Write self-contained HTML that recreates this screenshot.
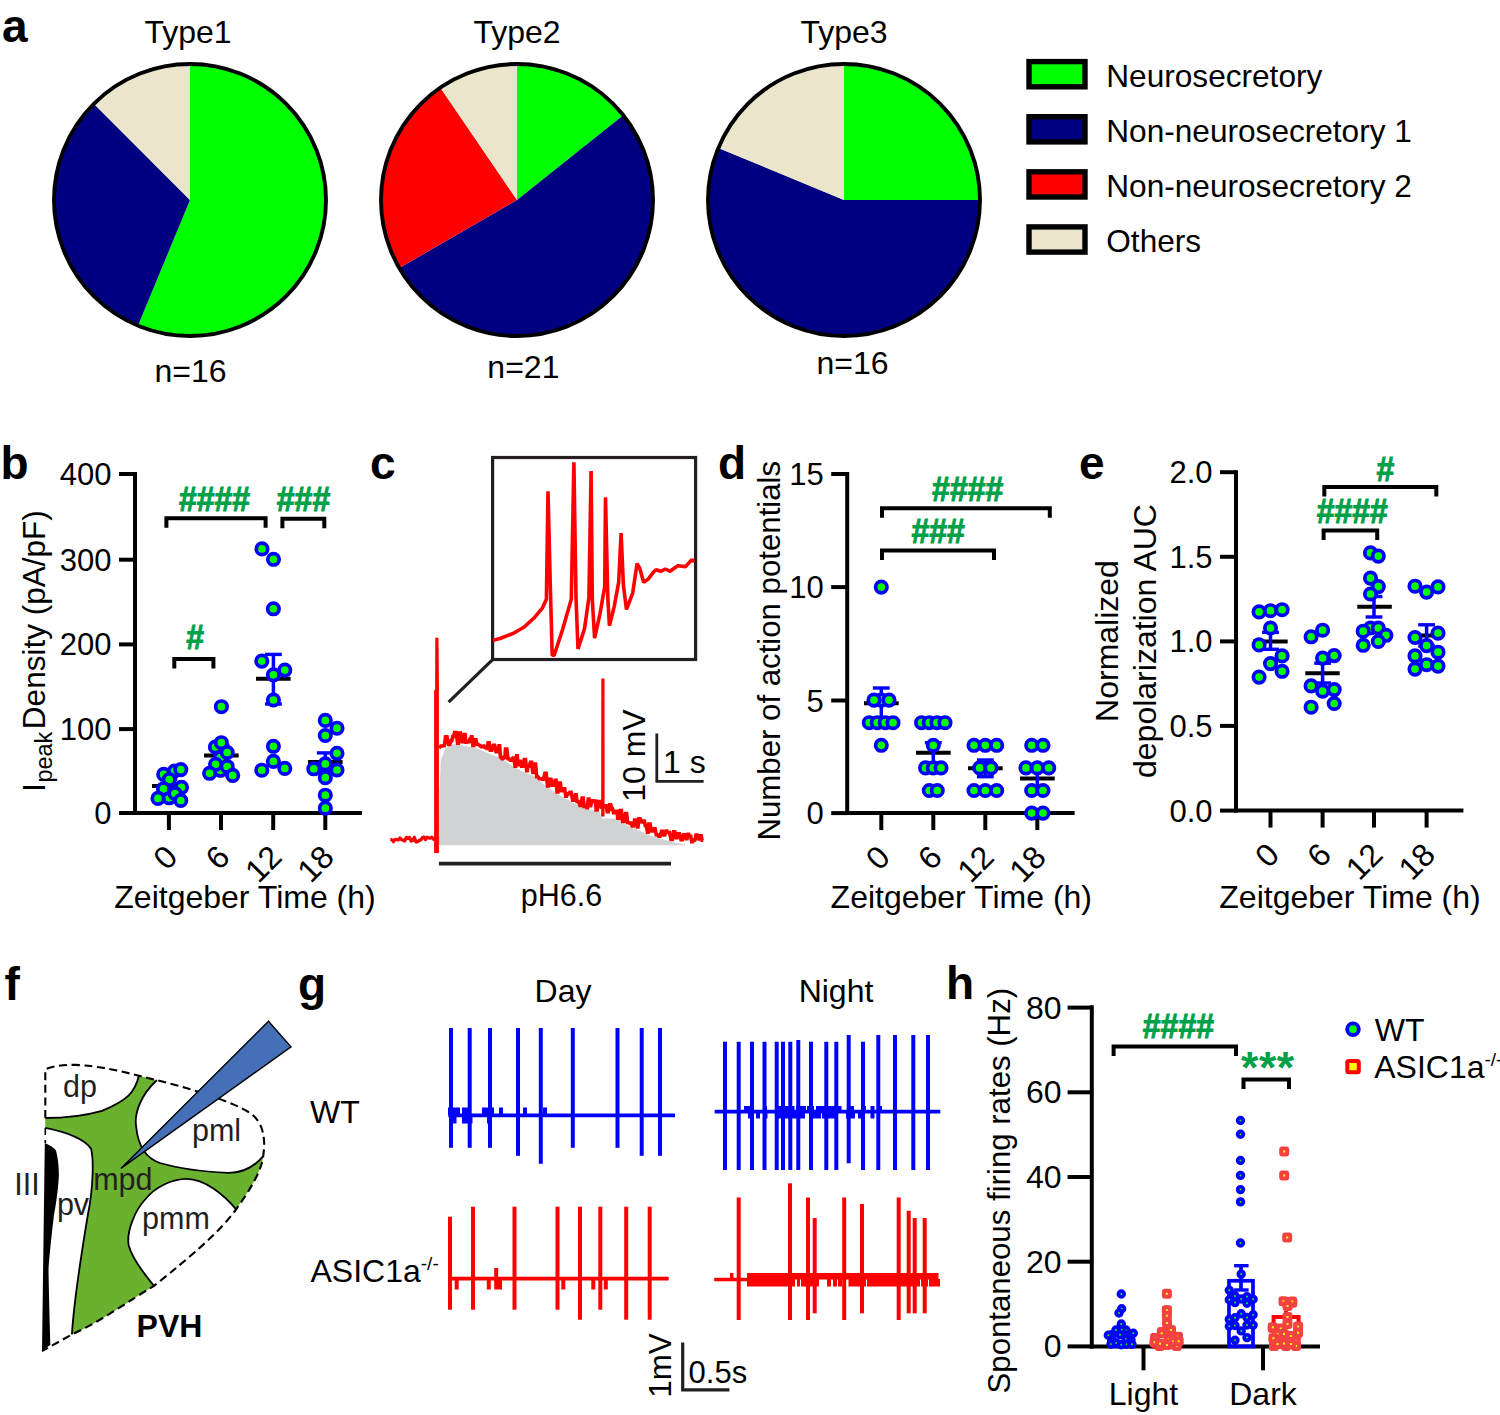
<!DOCTYPE html>
<html><head><meta charset="utf-8"><style>
html,body{margin:0;padding:0;background:#fff;width:1500px;height:1415px;overflow:hidden}
svg{display:block}
text{font-family:"Liberation Sans", sans-serif}
</style></head><body>
<svg width="1500" height="1415" viewBox="0 0 1500 1415">
<rect width="1500" height="1415" fill="#fff"/>
<text x="2.0" y="41.5" font-size="46" text-anchor="start" font-weight="bold" fill="#000" >a</text>
<path d="M190,200 L190.00,64.00 A136,136 0 1 1 137.96,325.65 Z" fill="#00ff00"/>
<path d="M190,200 L137.96,325.65 A136,136 0 0 1 93.83,103.83 Z" fill="#000080"/>
<path d="M190,200 L93.83,103.83 A136,136 0 0 1 190.00,64.00 Z" fill="#ebe5cb"/>
<circle cx="190" cy="200" r="136" fill="none" stroke="#000" stroke-width="3.9"/>
<text x="188.0" y="43.4" font-size="32" text-anchor="middle" font-weight="normal" fill="#000" >Type1</text>
<text x="190.6" y="382.0" font-size="32" text-anchor="middle" font-weight="normal" fill="#000" >n=16</text>
<path d="M517,200 L517.00,64.00 A136,136 0 0 1 623.33,115.21 Z" fill="#00ff00"/>
<path d="M517,200 L623.33,115.21 A136,136 0 1 1 399.22,268.00 Z" fill="#000080"/>
<path d="M517,200 L399.22,268.00 A136,136 0 0 1 440.39,87.63 Z" fill="#ff0000"/>
<path d="M517,200 L440.39,87.63 A136,136 0 0 1 517.00,64.00 Z" fill="#ebe5cb"/>
<circle cx="517" cy="200" r="136" fill="none" stroke="#000" stroke-width="3.9"/>
<text x="517.0" y="43.4" font-size="32" text-anchor="middle" font-weight="normal" fill="#000" >Type2</text>
<text x="523.4" y="377.8" font-size="32" text-anchor="middle" font-weight="normal" fill="#000" >n=21</text>
<path d="M844,200 L844.00,64.00 A136,136 0 0 1 980.00,200.00 Z" fill="#00ff00"/>
<path d="M844,200 L980.00,200.00 A136,136 0 1 1 718.35,147.96 Z" fill="#000080"/>
<path d="M844,200 L718.35,147.96 A136,136 0 0 1 844.00,64.00 Z" fill="#ebe5cb"/>
<circle cx="844" cy="200" r="136" fill="none" stroke="#000" stroke-width="3.9"/>
<text x="844.0" y="43.4" font-size="32" text-anchor="middle" font-weight="normal" fill="#000" >Type3</text>
<text x="852.6" y="374.0" font-size="32" text-anchor="middle" font-weight="normal" fill="#000" >n=16</text>
<rect x="1029" y="61.6" width="56" height="25.2" fill="#00ff00" stroke="#000" stroke-width="5.4"/>
<text x="1106.3" y="86.5" font-size="31.6" text-anchor="start" font-weight="normal" fill="#000" >Neurosecretory</text>
<rect x="1029" y="116.7" width="56" height="25.2" fill="#000080" stroke="#000" stroke-width="5.4"/>
<text x="1106.3" y="141.6" font-size="31.6" text-anchor="start" font-weight="normal" fill="#000" >Non-neurosecretory 1</text>
<rect x="1029" y="171.8" width="56" height="25.2" fill="#ff0000" stroke="#000" stroke-width="5.4"/>
<text x="1106.3" y="196.7" font-size="31.6" text-anchor="start" font-weight="normal" fill="#000" >Non-neurosecretory 2</text>
<rect x="1029" y="226.9" width="56" height="25.2" fill="#ebe5cb" stroke="#000" stroke-width="5.4"/>
<text x="1106.3" y="251.8" font-size="31.6" text-anchor="start" font-weight="normal" fill="#000" >Others</text>
<text x="0.5" y="479.0" font-size="46" text-anchor="start" font-weight="bold" fill="#000" >b</text>
<line x1="135.0" y1="472.0" x2="135.0" y2="815.0" stroke="#000" stroke-width="4" stroke-linecap="butt"/>
<line x1="133.0" y1="813.0" x2="362.0" y2="813.0" stroke="#000" stroke-width="4" stroke-linecap="butt"/>
<line x1="119.0" y1="474.0" x2="135.0" y2="474.0" stroke="#000" stroke-width="4" stroke-linecap="butt"/>
<text x="111.5" y="485.0" font-size="31" text-anchor="end" font-weight="normal" fill="#000" >400</text>
<line x1="119.0" y1="559.7" x2="135.0" y2="559.7" stroke="#000" stroke-width="4" stroke-linecap="butt"/>
<text x="111.5" y="570.7" font-size="31" text-anchor="end" font-weight="normal" fill="#000" >300</text>
<line x1="119.0" y1="644.4" x2="135.0" y2="644.4" stroke="#000" stroke-width="4" stroke-linecap="butt"/>
<text x="111.5" y="655.4" font-size="31" text-anchor="end" font-weight="normal" fill="#000" >200</text>
<line x1="119.0" y1="729.1" x2="135.0" y2="729.1" stroke="#000" stroke-width="4" stroke-linecap="butt"/>
<text x="111.5" y="740.1" font-size="31" text-anchor="end" font-weight="normal" fill="#000" >100</text>
<line x1="119.0" y1="813.0" x2="135.0" y2="813.0" stroke="#000" stroke-width="4" stroke-linecap="butt"/>
<text x="111.5" y="824.0" font-size="31" text-anchor="end" font-weight="normal" fill="#000" >0</text>
<line x1="168.9" y1="813.0" x2="168.9" y2="830.0" stroke="#000" stroke-width="4" stroke-linecap="butt"/>
<text transform="translate(179.4,859.0) rotate(-45)" font-size="32" text-anchor="end">0</text>
<line x1="221.0" y1="813.0" x2="221.0" y2="830.0" stroke="#000" stroke-width="4" stroke-linecap="butt"/>
<text transform="translate(231.5,859.0) rotate(-45)" font-size="32" text-anchor="end">6</text>
<line x1="273.2" y1="813.0" x2="273.2" y2="830.0" stroke="#000" stroke-width="4" stroke-linecap="butt"/>
<text transform="translate(283.7,859.0) rotate(-45)" font-size="32" text-anchor="end">12</text>
<line x1="325.3" y1="813.0" x2="325.3" y2="830.0" stroke="#000" stroke-width="4" stroke-linecap="butt"/>
<text transform="translate(335.8,859.0) rotate(-45)" font-size="32" text-anchor="end">18</text>
<text x="245.0" y="908.4" font-size="32" text-anchor="middle" font-weight="normal" fill="#000" >Zeitgeber Time (h)</text>
<text transform="translate(44.5,792) rotate(-90)" font-size="32">I<tspan font-size="23.5" dx="0.5" dy="7.1">peak</tspan><tspan dx="2.5" dy="-7.1" font-size="31.5">Density (pA/pF)</tspan></text>
<polyline points="166.4,527.8 166.4,518.3 265.6,518.3 265.6,527.8" fill="none" stroke="#000" stroke-width="4" stroke-linejoin="miter" stroke-linecap="butt"/>
<polyline points="282.4,528.2 282.4,518.7 324.3,518.7 324.3,528.2" fill="none" stroke="#000" stroke-width="4" stroke-linejoin="miter" stroke-linecap="butt"/>
<polyline points="174.3,668.5 174.3,659.0 213.4,659.0 213.4,668.5" fill="none" stroke="#000" stroke-width="4" stroke-linejoin="miter" stroke-linecap="butt"/>
<text transform="translate(214.5,510.7) scale(1,1.085)" x="0" y="0" font-size="32" text-anchor="middle" font-weight="bold" fill="#00a048" stroke="#00a048" stroke-width="0.9">####</text>
<text transform="translate(303.5,510.7) scale(1,1.085)" x="0" y="0" font-size="32" text-anchor="middle" font-weight="bold" fill="#00a048" stroke="#00a048" stroke-width="0.9">###</text>
<text transform="translate(195.1,648.7) scale(1,1.085)" x="0" y="0" font-size="32" text-anchor="middle" font-weight="bold" fill="#00a048" stroke="#00a048" stroke-width="0.9">#</text>
<line x1="152.0" y1="786.0" x2="186.0" y2="786.0" stroke="#000" stroke-width="4" stroke-linecap="butt"/>
<line x1="168.9" y1="779.0" x2="168.9" y2="786.0" stroke="#0000ff" stroke-width="3.5" stroke-linecap="butt"/>
<line x1="160.5" y1="779.0" x2="177.3" y2="779.0" stroke="#0000ff" stroke-width="3.4" stroke-linecap="butt"/>
<line x1="168.9" y1="786.0" x2="168.9" y2="793.0" stroke="#0000ff" stroke-width="3.5" stroke-linecap="butt"/>
<line x1="160.5" y1="793.0" x2="177.3" y2="793.0" stroke="#0000ff" stroke-width="3.4" stroke-linecap="butt"/>
<line x1="204.1" y1="755.4" x2="238.7" y2="755.4" stroke="#000" stroke-width="4" stroke-linecap="butt"/>
<line x1="221.0" y1="745.5" x2="221.0" y2="755.4" stroke="#0000ff" stroke-width="3.5" stroke-linecap="butt"/>
<line x1="212.6" y1="745.5" x2="229.4" y2="745.5" stroke="#0000ff" stroke-width="3.4" stroke-linecap="butt"/>
<line x1="221.0" y1="755.4" x2="221.0" y2="765.5" stroke="#0000ff" stroke-width="3.5" stroke-linecap="butt"/>
<line x1="212.6" y1="765.5" x2="229.4" y2="765.5" stroke="#0000ff" stroke-width="3.4" stroke-linecap="butt"/>
<line x1="256.0" y1="678.8" x2="290.6" y2="678.8" stroke="#000" stroke-width="4" stroke-linecap="butt"/>
<line x1="273.4" y1="654.4" x2="273.4" y2="678.8" stroke="#0000ff" stroke-width="3.5" stroke-linecap="butt"/>
<line x1="265.0" y1="654.4" x2="281.8" y2="654.4" stroke="#0000ff" stroke-width="3.4" stroke-linecap="butt"/>
<line x1="273.4" y1="678.8" x2="273.4" y2="704.0" stroke="#0000ff" stroke-width="3.5" stroke-linecap="butt"/>
<line x1="265.0" y1="704.0" x2="281.8" y2="704.0" stroke="#0000ff" stroke-width="3.4" stroke-linecap="butt"/>
<line x1="308.1" y1="761.9" x2="342.6" y2="761.9" stroke="#000" stroke-width="4" stroke-linecap="butt"/>
<line x1="325.3" y1="752.9" x2="325.3" y2="761.9" stroke="#0000ff" stroke-width="3.5" stroke-linecap="butt"/>
<line x1="316.9" y1="752.9" x2="333.7" y2="752.9" stroke="#0000ff" stroke-width="3.4" stroke-linecap="butt"/>
<line x1="325.3" y1="761.9" x2="325.3" y2="771.0" stroke="#0000ff" stroke-width="3.5" stroke-linecap="butt"/>
<line x1="316.9" y1="771.0" x2="333.7" y2="771.0" stroke="#0000ff" stroke-width="3.4" stroke-linecap="butt"/>
<circle cx="174.5" cy="771.0" r="5.7" fill="#00ff00" stroke="#0000ff" stroke-width="3.7"/>
<circle cx="163.7" cy="774.4" r="5.7" fill="#00ff00" stroke="#0000ff" stroke-width="3.7"/>
<circle cx="169.1" cy="797.8" r="5.7" fill="#00ff00" stroke="#0000ff" stroke-width="3.7"/>
<circle cx="181.5" cy="787.3" r="5.7" fill="#00ff00" stroke="#0000ff" stroke-width="3.7"/>
<circle cx="175.0" cy="793.5" r="5.7" fill="#00ff00" stroke="#0000ff" stroke-width="3.7"/>
<circle cx="180.8" cy="769.6" r="5.7" fill="#00ff00" stroke="#0000ff" stroke-width="3.7"/>
<circle cx="169.3" cy="779.5" r="5.7" fill="#00ff00" stroke="#0000ff" stroke-width="3.7"/>
<circle cx="163.5" cy="788.8" r="5.7" fill="#00ff00" stroke="#0000ff" stroke-width="3.7"/>
<circle cx="158.0" cy="798.4" r="5.7" fill="#00ff00" stroke="#0000ff" stroke-width="3.7"/>
<circle cx="180.8" cy="800.5" r="5.7" fill="#00ff00" stroke="#0000ff" stroke-width="3.7"/>
<circle cx="215.4" cy="747.0" r="5.7" fill="#00ff00" stroke="#0000ff" stroke-width="3.7"/>
<circle cx="220.4" cy="757.6" r="5.7" fill="#00ff00" stroke="#0000ff" stroke-width="3.7"/>
<circle cx="220.4" cy="770.3" r="5.7" fill="#00ff00" stroke="#0000ff" stroke-width="3.7"/>
<circle cx="221.3" cy="742.7" r="5.7" fill="#00ff00" stroke="#0000ff" stroke-width="3.7"/>
<circle cx="227.2" cy="752.5" r="5.7" fill="#00ff00" stroke="#0000ff" stroke-width="3.7"/>
<circle cx="215.6" cy="764.3" r="5.7" fill="#00ff00" stroke="#0000ff" stroke-width="3.7"/>
<circle cx="227.2" cy="766.5" r="5.7" fill="#00ff00" stroke="#0000ff" stroke-width="3.7"/>
<circle cx="209.6" cy="773.3" r="5.7" fill="#00ff00" stroke="#0000ff" stroke-width="3.7"/>
<circle cx="232.7" cy="775.4" r="5.7" fill="#00ff00" stroke="#0000ff" stroke-width="3.7"/>
<circle cx="221.4" cy="706.7" r="5.7" fill="#00ff00" stroke="#0000ff" stroke-width="3.7"/>
<circle cx="273.4" cy="608.8" r="5.7" fill="#00ff00" stroke="#0000ff" stroke-width="3.7"/>
<circle cx="262.0" cy="548.9" r="5.7" fill="#00ff00" stroke="#0000ff" stroke-width="3.7"/>
<circle cx="273.5" cy="559.3" r="5.7" fill="#00ff00" stroke="#0000ff" stroke-width="3.7"/>
<circle cx="261.8" cy="661.1" r="5.7" fill="#00ff00" stroke="#0000ff" stroke-width="3.7"/>
<circle cx="284.8" cy="670.1" r="5.7" fill="#00ff00" stroke="#0000ff" stroke-width="3.7"/>
<circle cx="273.4" cy="674.8" r="5.7" fill="#00ff00" stroke="#0000ff" stroke-width="3.7"/>
<circle cx="273.4" cy="700.0" r="5.7" fill="#00ff00" stroke="#0000ff" stroke-width="3.7"/>
<circle cx="273.4" cy="746.3" r="5.7" fill="#00ff00" stroke="#0000ff" stroke-width="3.7"/>
<circle cx="273.4" cy="761.4" r="5.7" fill="#00ff00" stroke="#0000ff" stroke-width="3.7"/>
<circle cx="261.8" cy="770.2" r="5.7" fill="#00ff00" stroke="#0000ff" stroke-width="3.7"/>
<circle cx="284.8" cy="768.4" r="5.7" fill="#00ff00" stroke="#0000ff" stroke-width="3.7"/>
<circle cx="325.3" cy="720.4" r="5.7" fill="#00ff00" stroke="#0000ff" stroke-width="3.7"/>
<circle cx="337.0" cy="728.2" r="5.7" fill="#00ff00" stroke="#0000ff" stroke-width="3.7"/>
<circle cx="325.3" cy="735.5" r="5.7" fill="#00ff00" stroke="#0000ff" stroke-width="3.7"/>
<circle cx="337.0" cy="753.3" r="5.7" fill="#00ff00" stroke="#0000ff" stroke-width="3.7"/>
<circle cx="325.3" cy="763.9" r="5.7" fill="#00ff00" stroke="#0000ff" stroke-width="3.7"/>
<circle cx="313.8" cy="768.8" r="5.7" fill="#00ff00" stroke="#0000ff" stroke-width="3.7"/>
<circle cx="337.0" cy="770.0" r="5.7" fill="#00ff00" stroke="#0000ff" stroke-width="3.7"/>
<circle cx="325.3" cy="777.7" r="5.7" fill="#00ff00" stroke="#0000ff" stroke-width="3.7"/>
<circle cx="325.3" cy="795.2" r="5.7" fill="#00ff00" stroke="#0000ff" stroke-width="3.7"/>
<circle cx="325.3" cy="808.2" r="5.7" fill="#00ff00" stroke="#0000ff" stroke-width="3.7"/>
<text x="718.0" y="479.0" font-size="46" text-anchor="start" font-weight="bold" fill="#000" >d</text>
<line x1="847.2" y1="472.0" x2="847.2" y2="815.1" stroke="#000" stroke-width="4" stroke-linecap="butt"/>
<line x1="845.2" y1="813.1" x2="1074.6" y2="813.1" stroke="#000" stroke-width="4" stroke-linecap="butt"/>
<line x1="831.2" y1="474.0" x2="847.2" y2="474.0" stroke="#000" stroke-width="4" stroke-linecap="butt"/>
<text x="823.7" y="485.0" font-size="31" text-anchor="end" font-weight="normal" fill="#000" >15</text>
<line x1="831.2" y1="587.1" x2="847.2" y2="587.1" stroke="#000" stroke-width="4" stroke-linecap="butt"/>
<text x="823.7" y="598.1" font-size="31" text-anchor="end" font-weight="normal" fill="#000" >10</text>
<line x1="831.2" y1="700.5" x2="847.2" y2="700.5" stroke="#000" stroke-width="4" stroke-linecap="butt"/>
<text x="823.7" y="711.5" font-size="31" text-anchor="end" font-weight="normal" fill="#000" >5</text>
<line x1="831.2" y1="813.1" x2="847.2" y2="813.1" stroke="#000" stroke-width="4" stroke-linecap="butt"/>
<text x="823.7" y="824.1" font-size="31" text-anchor="end" font-weight="normal" fill="#000" >0</text>
<line x1="881.3" y1="813.1" x2="881.3" y2="830.1" stroke="#000" stroke-width="4" stroke-linecap="butt"/>
<text transform="translate(891.8,859.1) rotate(-45)" font-size="32" text-anchor="end">0</text>
<line x1="933.3" y1="813.1" x2="933.3" y2="830.1" stroke="#000" stroke-width="4" stroke-linecap="butt"/>
<text transform="translate(943.8,859.1) rotate(-45)" font-size="32" text-anchor="end">6</text>
<line x1="985.3" y1="813.1" x2="985.3" y2="830.1" stroke="#000" stroke-width="4" stroke-linecap="butt"/>
<text transform="translate(995.8,859.1) rotate(-45)" font-size="32" text-anchor="end">12</text>
<line x1="1037.3" y1="813.1" x2="1037.3" y2="830.1" stroke="#000" stroke-width="4" stroke-linecap="butt"/>
<text transform="translate(1047.8,859.1) rotate(-45)" font-size="32" text-anchor="end">18</text>
<text x="961.3" y="908.4" font-size="32" text-anchor="middle" font-weight="normal" fill="#000" >Zeitgeber Time (h)</text>
<text transform="translate(780.2,650.7) rotate(-90)" font-size="31.2" text-anchor="middle" font-weight="normal" fill="#000">Number of action potentials</text>
<polyline points="882.0,517.7 882.0,508.2 1049.8,508.2 1049.8,517.7" fill="none" stroke="#000" stroke-width="4" stroke-linejoin="miter" stroke-linecap="butt"/>
<polyline points="882.0,559.9 882.0,550.4 994.0,550.4 994.0,559.9" fill="none" stroke="#000" stroke-width="4" stroke-linejoin="miter" stroke-linecap="butt"/>
<text transform="translate(967.7,501.0) scale(1,1.085)" x="0" y="0" font-size="32" text-anchor="middle" font-weight="bold" fill="#00a048" stroke="#00a048" stroke-width="0.9">####</text>
<text transform="translate(938.2,542.5) scale(1,1.085)" x="0" y="0" font-size="32" text-anchor="middle" font-weight="bold" fill="#00a048" stroke="#00a048" stroke-width="0.9">###</text>
<line x1="864.0" y1="703.3" x2="898.7" y2="703.3" stroke="#000" stroke-width="4" stroke-linecap="butt"/>
<line x1="881.3" y1="688.0" x2="881.3" y2="703.3" stroke="#0000ff" stroke-width="3.5" stroke-linecap="butt"/>
<line x1="872.9" y1="688.0" x2="889.7" y2="688.0" stroke="#0000ff" stroke-width="3.4" stroke-linecap="butt"/>
<line x1="881.3" y1="703.3" x2="881.3" y2="718.0" stroke="#0000ff" stroke-width="3.5" stroke-linecap="butt"/>
<line x1="872.9" y1="718.0" x2="889.7" y2="718.0" stroke="#0000ff" stroke-width="3.4" stroke-linecap="butt"/>
<line x1="916.0" y1="752.7" x2="950.7" y2="752.7" stroke="#000" stroke-width="4" stroke-linecap="butt"/>
<line x1="933.3" y1="742.7" x2="933.3" y2="752.7" stroke="#0000ff" stroke-width="3.5" stroke-linecap="butt"/>
<line x1="924.9" y1="742.7" x2="941.7" y2="742.7" stroke="#0000ff" stroke-width="3.4" stroke-linecap="butt"/>
<line x1="933.3" y1="752.7" x2="933.3" y2="763.0" stroke="#0000ff" stroke-width="3.5" stroke-linecap="butt"/>
<line x1="924.9" y1="763.0" x2="941.7" y2="763.0" stroke="#0000ff" stroke-width="3.4" stroke-linecap="butt"/>
<line x1="968.0" y1="768.3" x2="1002.7" y2="768.3" stroke="#000" stroke-width="4" stroke-linecap="butt"/>
<line x1="985.3" y1="760.0" x2="985.3" y2="768.3" stroke="#0000ff" stroke-width="3.5" stroke-linecap="butt"/>
<line x1="976.9" y1="760.0" x2="993.7" y2="760.0" stroke="#0000ff" stroke-width="3.4" stroke-linecap="butt"/>
<line x1="985.3" y1="768.3" x2="985.3" y2="776.7" stroke="#0000ff" stroke-width="3.5" stroke-linecap="butt"/>
<line x1="976.9" y1="776.7" x2="993.7" y2="776.7" stroke="#0000ff" stroke-width="3.4" stroke-linecap="butt"/>
<line x1="1020.0" y1="778.4" x2="1054.7" y2="778.4" stroke="#000" stroke-width="4" stroke-linecap="butt"/>
<line x1="1037.3" y1="770.0" x2="1037.3" y2="778.4" stroke="#0000ff" stroke-width="3.5" stroke-linecap="butt"/>
<line x1="1028.9" y1="770.0" x2="1045.7" y2="770.0" stroke="#0000ff" stroke-width="3.4" stroke-linecap="butt"/>
<line x1="1037.3" y1="778.4" x2="1037.3" y2="787.0" stroke="#0000ff" stroke-width="3.5" stroke-linecap="butt"/>
<line x1="1028.9" y1="787.0" x2="1045.7" y2="787.0" stroke="#0000ff" stroke-width="3.4" stroke-linecap="butt"/>
<circle cx="881.3" cy="587.1" r="5.7" fill="#00ff00" stroke="#0000ff" stroke-width="3.7"/>
<circle cx="869.3" cy="722.7" r="5.7" fill="#00ff00" stroke="#0000ff" stroke-width="3.7"/>
<circle cx="877.3" cy="722.7" r="5.7" fill="#00ff00" stroke="#0000ff" stroke-width="3.7"/>
<circle cx="885.3" cy="722.7" r="5.7" fill="#00ff00" stroke="#0000ff" stroke-width="3.7"/>
<circle cx="893.0" cy="722.7" r="5.7" fill="#00ff00" stroke="#0000ff" stroke-width="3.7"/>
<circle cx="881.3" cy="700.1" r="5.7" fill="#00ff00" stroke="#0000ff" stroke-width="3.7"/>
<circle cx="874.0" cy="700.1" r="5.7" fill="#00ff00" stroke="#0000ff" stroke-width="3.7"/>
<circle cx="889.0" cy="700.1" r="5.7" fill="#00ff00" stroke="#0000ff" stroke-width="3.7"/>
<circle cx="881.3" cy="745.3" r="5.7" fill="#00ff00" stroke="#0000ff" stroke-width="3.7"/>
<circle cx="921.6" cy="722.7" r="5.7" fill="#00ff00" stroke="#0000ff" stroke-width="3.7"/>
<circle cx="929.3" cy="722.7" r="5.7" fill="#00ff00" stroke="#0000ff" stroke-width="3.7"/>
<circle cx="937.0" cy="722.7" r="5.7" fill="#00ff00" stroke="#0000ff" stroke-width="3.7"/>
<circle cx="945.0" cy="722.7" r="5.7" fill="#00ff00" stroke="#0000ff" stroke-width="3.7"/>
<circle cx="933.3" cy="745.3" r="5.7" fill="#00ff00" stroke="#0000ff" stroke-width="3.7"/>
<circle cx="925.6" cy="767.9" r="5.7" fill="#00ff00" stroke="#0000ff" stroke-width="3.7"/>
<circle cx="933.3" cy="767.9" r="5.7" fill="#00ff00" stroke="#0000ff" stroke-width="3.7"/>
<circle cx="941.0" cy="767.9" r="5.7" fill="#00ff00" stroke="#0000ff" stroke-width="3.7"/>
<circle cx="929.3" cy="790.5" r="5.7" fill="#00ff00" stroke="#0000ff" stroke-width="3.7"/>
<circle cx="937.3" cy="790.5" r="5.7" fill="#00ff00" stroke="#0000ff" stroke-width="3.7"/>
<circle cx="974.0" cy="745.3" r="5.7" fill="#00ff00" stroke="#0000ff" stroke-width="3.7"/>
<circle cx="985.3" cy="745.3" r="5.7" fill="#00ff00" stroke="#0000ff" stroke-width="3.7"/>
<circle cx="996.7" cy="745.3" r="5.7" fill="#00ff00" stroke="#0000ff" stroke-width="3.7"/>
<circle cx="979.7" cy="767.9" r="5.7" fill="#00ff00" stroke="#0000ff" stroke-width="3.7"/>
<circle cx="991.0" cy="767.9" r="5.7" fill="#00ff00" stroke="#0000ff" stroke-width="3.7"/>
<circle cx="974.0" cy="790.5" r="5.7" fill="#00ff00" stroke="#0000ff" stroke-width="3.7"/>
<circle cx="985.3" cy="790.5" r="5.7" fill="#00ff00" stroke="#0000ff" stroke-width="3.7"/>
<circle cx="996.7" cy="790.5" r="5.7" fill="#00ff00" stroke="#0000ff" stroke-width="3.7"/>
<circle cx="1031.7" cy="745.3" r="5.7" fill="#00ff00" stroke="#0000ff" stroke-width="3.7"/>
<circle cx="1043.0" cy="745.3" r="5.7" fill="#00ff00" stroke="#0000ff" stroke-width="3.7"/>
<circle cx="1026.0" cy="767.9" r="5.7" fill="#00ff00" stroke="#0000ff" stroke-width="3.7"/>
<circle cx="1037.3" cy="767.9" r="5.7" fill="#00ff00" stroke="#0000ff" stroke-width="3.7"/>
<circle cx="1048.7" cy="767.9" r="5.7" fill="#00ff00" stroke="#0000ff" stroke-width="3.7"/>
<circle cx="1031.7" cy="790.5" r="5.7" fill="#00ff00" stroke="#0000ff" stroke-width="3.7"/>
<circle cx="1043.0" cy="790.5" r="5.7" fill="#00ff00" stroke="#0000ff" stroke-width="3.7"/>
<circle cx="1031.7" cy="813.1" r="5.7" fill="#00ff00" stroke="#0000ff" stroke-width="3.7"/>
<circle cx="1043.0" cy="813.1" r="5.7" fill="#00ff00" stroke="#0000ff" stroke-width="3.7"/>
<text x="1079.0" y="478.5" font-size="46" text-anchor="start" font-weight="bold" fill="#000" >e</text>
<line x1="1236.0" y1="470.2" x2="1236.0" y2="812.6" stroke="#000" stroke-width="4" stroke-linecap="butt"/>
<line x1="1234.0" y1="810.6" x2="1463.4" y2="810.6" stroke="#000" stroke-width="4" stroke-linecap="butt"/>
<line x1="1220.0" y1="472.2" x2="1236.0" y2="472.2" stroke="#000" stroke-width="4" stroke-linecap="butt"/>
<text x="1212.5" y="483.2" font-size="31" text-anchor="end" font-weight="normal" fill="#000" >2.0</text>
<line x1="1220.0" y1="556.8" x2="1236.0" y2="556.8" stroke="#000" stroke-width="4" stroke-linecap="butt"/>
<text x="1212.5" y="567.8" font-size="31" text-anchor="end" font-weight="normal" fill="#000" >1.5</text>
<line x1="1220.0" y1="641.4" x2="1236.0" y2="641.4" stroke="#000" stroke-width="4" stroke-linecap="butt"/>
<text x="1212.5" y="652.4" font-size="31" text-anchor="end" font-weight="normal" fill="#000" >1.0</text>
<line x1="1220.0" y1="725.9" x2="1236.0" y2="725.9" stroke="#000" stroke-width="4" stroke-linecap="butt"/>
<text x="1212.5" y="736.9" font-size="31" text-anchor="end" font-weight="normal" fill="#000" >0.5</text>
<line x1="1220.0" y1="810.6" x2="1236.0" y2="810.6" stroke="#000" stroke-width="4" stroke-linecap="butt"/>
<text x="1212.5" y="821.6" font-size="31" text-anchor="end" font-weight="normal" fill="#000" >0.0</text>
<line x1="1270.5" y1="810.6" x2="1270.5" y2="827.6" stroke="#000" stroke-width="4" stroke-linecap="butt"/>
<text transform="translate(1281.0,856.6) rotate(-45)" font-size="32" text-anchor="end">0</text>
<line x1="1322.6" y1="810.6" x2="1322.6" y2="827.6" stroke="#000" stroke-width="4" stroke-linecap="butt"/>
<text transform="translate(1333.1,856.6) rotate(-45)" font-size="32" text-anchor="end">6</text>
<line x1="1374.0" y1="810.6" x2="1374.0" y2="827.6" stroke="#000" stroke-width="4" stroke-linecap="butt"/>
<text transform="translate(1384.5,856.6) rotate(-45)" font-size="32" text-anchor="end">12</text>
<line x1="1426.6" y1="810.6" x2="1426.6" y2="827.6" stroke="#000" stroke-width="4" stroke-linecap="butt"/>
<text transform="translate(1437.1,856.6) rotate(-45)" font-size="32" text-anchor="end">18</text>
<text x="1350.0" y="908.4" font-size="32" text-anchor="middle" font-weight="normal" fill="#000" >Zeitgeber Time (h)</text>
<text transform="translate(1118.0,641.0) rotate(-90)" font-size="32" text-anchor="middle" font-weight="normal" fill="#000">Normalized</text>
<text transform="translate(1156.3,641.0) rotate(-90)" font-size="32" text-anchor="middle" font-weight="normal" fill="#000">depolarization AUC</text>
<polyline points="1324.3,496.5 1324.3,487.0 1436.3,487.0 1436.3,496.5" fill="none" stroke="#000" stroke-width="4" stroke-linejoin="miter" stroke-linecap="butt"/>
<polyline points="1323.6,540.0 1323.6,530.5 1377.2,530.5 1377.2,540.0" fill="none" stroke="#000" stroke-width="4" stroke-linejoin="miter" stroke-linecap="butt"/>
<text transform="translate(1385.5,480.7) scale(1,1.085)" x="0" y="0" font-size="32" text-anchor="middle" font-weight="bold" fill="#00a048" stroke="#00a048" stroke-width="0.9">#</text>
<text transform="translate(1352.3,523.0) scale(1,1.085)" x="0" y="0" font-size="32" text-anchor="middle" font-weight="bold" fill="#00a048" stroke="#00a048" stroke-width="0.9">####</text>
<line x1="1253.0" y1="641.6" x2="1287.7" y2="641.6" stroke="#000" stroke-width="4" stroke-linecap="butt"/>
<line x1="1270.5" y1="632.4" x2="1270.5" y2="641.6" stroke="#0000ff" stroke-width="3.5" stroke-linecap="butt"/>
<line x1="1262.1" y1="632.4" x2="1278.9" y2="632.4" stroke="#0000ff" stroke-width="3.4" stroke-linecap="butt"/>
<line x1="1270.5" y1="641.6" x2="1270.5" y2="649.3" stroke="#0000ff" stroke-width="3.5" stroke-linecap="butt"/>
<line x1="1262.1" y1="649.3" x2="1278.9" y2="649.3" stroke="#0000ff" stroke-width="3.4" stroke-linecap="butt"/>
<line x1="1305.3" y1="673.2" x2="1339.7" y2="673.2" stroke="#000" stroke-width="4" stroke-linecap="butt"/>
<line x1="1322.6" y1="663.2" x2="1322.6" y2="673.2" stroke="#0000ff" stroke-width="3.5" stroke-linecap="butt"/>
<line x1="1314.2" y1="663.2" x2="1331.0" y2="663.2" stroke="#0000ff" stroke-width="3.4" stroke-linecap="butt"/>
<line x1="1322.6" y1="673.2" x2="1322.6" y2="683.0" stroke="#0000ff" stroke-width="3.5" stroke-linecap="butt"/>
<line x1="1314.2" y1="683.0" x2="1331.0" y2="683.0" stroke="#0000ff" stroke-width="3.4" stroke-linecap="butt"/>
<line x1="1357.3" y1="606.7" x2="1391.8" y2="606.7" stroke="#000" stroke-width="4" stroke-linecap="butt"/>
<line x1="1374.0" y1="596.5" x2="1374.0" y2="606.7" stroke="#0000ff" stroke-width="3.5" stroke-linecap="butt"/>
<line x1="1365.6" y1="596.5" x2="1382.4" y2="596.5" stroke="#0000ff" stroke-width="3.4" stroke-linecap="butt"/>
<line x1="1374.0" y1="606.7" x2="1374.0" y2="617.0" stroke="#0000ff" stroke-width="3.5" stroke-linecap="butt"/>
<line x1="1365.6" y1="617.0" x2="1382.4" y2="617.0" stroke="#0000ff" stroke-width="3.4" stroke-linecap="butt"/>
<line x1="1409.5" y1="635.6" x2="1444.0" y2="635.6" stroke="#000" stroke-width="4" stroke-linecap="butt"/>
<line x1="1426.6" y1="624.8" x2="1426.6" y2="635.6" stroke="#0000ff" stroke-width="3.5" stroke-linecap="butt"/>
<line x1="1418.2" y1="624.8" x2="1435.0" y2="624.8" stroke="#0000ff" stroke-width="3.4" stroke-linecap="butt"/>
<line x1="1426.6" y1="635.6" x2="1426.6" y2="646.0" stroke="#0000ff" stroke-width="3.5" stroke-linecap="butt"/>
<line x1="1418.2" y1="646.0" x2="1435.0" y2="646.0" stroke="#0000ff" stroke-width="3.4" stroke-linecap="butt"/>
<circle cx="1259.1" cy="611.9" r="5.7" fill="#00ff00" stroke="#0000ff" stroke-width="3.7"/>
<circle cx="1270.5" cy="610.7" r="5.7" fill="#00ff00" stroke="#0000ff" stroke-width="3.7"/>
<circle cx="1282.1" cy="609.7" r="5.7" fill="#00ff00" stroke="#0000ff" stroke-width="3.7"/>
<circle cx="1270.5" cy="628.0" r="5.7" fill="#00ff00" stroke="#0000ff" stroke-width="3.7"/>
<circle cx="1259.1" cy="644.9" r="5.7" fill="#00ff00" stroke="#0000ff" stroke-width="3.7"/>
<circle cx="1282.1" cy="655.9" r="5.7" fill="#00ff00" stroke="#0000ff" stroke-width="3.7"/>
<circle cx="1270.5" cy="663.6" r="5.7" fill="#00ff00" stroke="#0000ff" stroke-width="3.7"/>
<circle cx="1282.1" cy="671.3" r="5.7" fill="#00ff00" stroke="#0000ff" stroke-width="3.7"/>
<circle cx="1259.1" cy="677.1" r="5.7" fill="#00ff00" stroke="#0000ff" stroke-width="3.7"/>
<circle cx="1311.1" cy="636.8" r="5.7" fill="#00ff00" stroke="#0000ff" stroke-width="3.7"/>
<circle cx="1322.6" cy="630.2" r="5.7" fill="#00ff00" stroke="#0000ff" stroke-width="3.7"/>
<circle cx="1322.6" cy="658.1" r="5.7" fill="#00ff00" stroke="#0000ff" stroke-width="3.7"/>
<circle cx="1334.2" cy="655.6" r="5.7" fill="#00ff00" stroke="#0000ff" stroke-width="3.7"/>
<circle cx="1311.1" cy="685.9" r="5.7" fill="#00ff00" stroke="#0000ff" stroke-width="3.7"/>
<circle cx="1322.6" cy="691.1" r="5.7" fill="#00ff00" stroke="#0000ff" stroke-width="3.7"/>
<circle cx="1334.2" cy="689.6" r="5.7" fill="#00ff00" stroke="#0000ff" stroke-width="3.7"/>
<circle cx="1311.1" cy="707.2" r="5.7" fill="#00ff00" stroke="#0000ff" stroke-width="3.7"/>
<circle cx="1334.2" cy="703.5" r="5.7" fill="#00ff00" stroke="#0000ff" stroke-width="3.7"/>
<circle cx="1370.5" cy="552.9" r="5.7" fill="#00ff00" stroke="#0000ff" stroke-width="3.7"/>
<circle cx="1378.3" cy="556.1" r="5.7" fill="#00ff00" stroke="#0000ff" stroke-width="3.7"/>
<circle cx="1370.5" cy="578.1" r="5.7" fill="#00ff00" stroke="#0000ff" stroke-width="3.7"/>
<circle cx="1378.3" cy="586.6" r="5.7" fill="#00ff00" stroke="#0000ff" stroke-width="3.7"/>
<circle cx="1370.5" cy="594.0" r="5.7" fill="#00ff00" stroke="#0000ff" stroke-width="3.7"/>
<circle cx="1370.5" cy="628.0" r="5.7" fill="#00ff00" stroke="#0000ff" stroke-width="3.7"/>
<circle cx="1378.3" cy="628.0" r="5.7" fill="#00ff00" stroke="#0000ff" stroke-width="3.7"/>
<circle cx="1363.2" cy="631.2" r="5.7" fill="#00ff00" stroke="#0000ff" stroke-width="3.7"/>
<circle cx="1385.9" cy="635.3" r="5.7" fill="#00ff00" stroke="#0000ff" stroke-width="3.7"/>
<circle cx="1363.2" cy="645.3" r="5.7" fill="#00ff00" stroke="#0000ff" stroke-width="3.7"/>
<circle cx="1378.3" cy="641.5" r="5.7" fill="#00ff00" stroke="#0000ff" stroke-width="3.7"/>
<circle cx="1415.0" cy="586.2" r="5.7" fill="#00ff00" stroke="#0000ff" stroke-width="3.7"/>
<circle cx="1426.6" cy="592.1" r="5.7" fill="#00ff00" stroke="#0000ff" stroke-width="3.7"/>
<circle cx="1438.0" cy="586.9" r="5.7" fill="#00ff00" stroke="#0000ff" stroke-width="3.7"/>
<circle cx="1438.0" cy="633.1" r="5.7" fill="#00ff00" stroke="#0000ff" stroke-width="3.7"/>
<circle cx="1415.0" cy="637.5" r="5.7" fill="#00ff00" stroke="#0000ff" stroke-width="3.7"/>
<circle cx="1426.6" cy="645.6" r="5.7" fill="#00ff00" stroke="#0000ff" stroke-width="3.7"/>
<circle cx="1438.0" cy="652.2" r="5.7" fill="#00ff00" stroke="#0000ff" stroke-width="3.7"/>
<circle cx="1415.0" cy="655.9" r="5.7" fill="#00ff00" stroke="#0000ff" stroke-width="3.7"/>
<circle cx="1426.6" cy="664.7" r="5.7" fill="#00ff00" stroke="#0000ff" stroke-width="3.7"/>
<circle cx="1438.0" cy="666.1" r="5.7" fill="#00ff00" stroke="#0000ff" stroke-width="3.7"/>
<circle cx="1415.0" cy="669.1" r="5.7" fill="#00ff00" stroke="#0000ff" stroke-width="3.7"/>
<text x="370.0" y="479.3" font-size="46" text-anchor="start" font-weight="bold" fill="#000" >c</text>
<path d="M438.9,845.3 L439.5,790.0 L441.0,760.0 L445.0,749.0 L450.0,744.9 L452.0,744.4 L454.0,744.0 L456.0,744.4 L458.0,744.7 L460.0,745.1 L462.0,745.4 L464.0,745.8 L466.0,746.2 L468.0,746.5 L470.0,746.9 L472.0,747.3 L474.0,747.6 L476.0,748.2 L478.0,749.0 L480.0,749.8 L482.0,750.6 L484.0,751.4 L486.0,752.2 L488.0,753.0 L490.0,753.9 L492.0,754.7 L494.0,755.5 L496.0,756.3 L498.0,757.1 L500.0,758.2 L502.0,759.4 L504.0,760.6 L506.0,761.8 L508.0,763.0 L510.0,764.2 L512.0,765.4 L514.0,766.6 L516.0,767.8 L518.0,769.0 L520.0,770.2 L522.0,771.3 L524.0,772.1 L526.0,772.9 L528.0,773.7 L530.0,774.5 L532.0,775.3 L534.0,776.4 L536.0,778.0 L538.0,779.6 L540.0,781.2 L542.0,782.8 L544.0,784.4 L546.0,785.9 L548.0,787.3 L550.0,788.7 L552.0,790.2 L554.0,791.6 L556.0,793.0 L558.0,794.2 L560.0,795.3 L562.0,796.5 L564.0,797.6 L566.0,798.7 L568.0,799.8 L570.0,800.9 L572.0,802.0 L574.0,803.2 L576.0,804.3 L578.0,805.4 L580.0,806.5 L582.0,807.1 L584.0,807.7 L586.0,808.2 L588.0,808.8 L590.0,809.4 L592.0,810.0 L594.0,810.5 L596.0,811.1 L598.0,811.7 L600.0,812.3 L602.0,818.5 L604.0,818.5 L606.0,818.5 L608.0,818.5 L610.0,818.5 L612.0,818.5 L614.0,818.5 L616.0,818.5 L618.0,818.5 L620.0,818.5 L622.0,822.5 L624.0,823.5 L626.0,824.5 L628.0,825.4 L630.0,826.3 L632.0,827.2 L634.0,828.2 L636.0,829.1 L638.0,830.0 L640.0,830.9 L642.0,831.8 L644.0,832.7 L646.0,833.7 L648.0,834.6 L650.0,835.5 L652.0,836.1 L654.0,836.7 L656.0,837.3 L658.0,837.9 L660.0,838.5 L662.0,839.1 L664.0,839.7 L666.0,840.3 L668.0,840.9 L670.0,841.5 L672.0,842.1 L674.0,842.6 L676.0,842.9 L678.0,843.2 L680.0,843.5 L682.0,843.8 L684.0,844.1 L686.0,845.3 L438.9,845.3 Z" fill="#d1d2d4"/>
<polyline points="390.3,839.3 391.9,839.8 393.5,841.7 395.1,839.3 396.7,839.5 398.3,840.0 399.9,837.9 401.5,839.6 403.1,840.2 404.7,841.0 406.3,837.4 407.9,838.5 409.5,837.4 411.1,841.1 412.7,840.5 414.3,837.1 415.9,842.0 417.5,841.9 419.1,840.3 420.7,840.1 422.3,837.7 423.9,837.0 425.5,839.6 427.1,837.2 428.7,837.9 430.3,838.2 431.9,837.1 433.5,839.3 435.5,838.0" fill="none" stroke="#ff0000" stroke-width="3.2" stroke-linejoin="round" stroke-linecap="butt"/>
<rect x="434.1" y="690" width="4.8" height="163" fill="#ff0000"/>
<path d="M435.1,690 L435.3,637.7 L438.5,637.7 L439,690 Z" fill="#ff0000"/>
<polyline points="439.0,748.0 441.0,746.0 442.1,746.0 443.1,745.8 444.3,745.8 445.5,736.9 447.0,736.9 448.5,744.5 449.8,744.5 451.0,740.6 451.9,740.6 452.7,736.5 453.7,736.5 454.6,732.5 456.1,732.5 457.6,743.3 458.4,743.3 459.1,733.0 460.6,733.0 462.1,741.8 463.3,741.8 464.4,734.6 465.1,734.6 465.8,742.2 467.1,742.2 468.4,741.6 469.0,741.6 469.7,739.2 470.5,739.2 471.3,736.9 472.0,736.9 472.8,745.5 474.0,745.5 475.2,739.9 476.0,739.9 476.7,744.3 478.1,744.3 479.4,745.5 480.2,745.5 481.0,746.6 482.1,746.6 483.3,746.1 484.1,746.1 484.9,747.5 485.8,747.5 486.7,748.4 487.4,748.4 488.1,742.7 489.2,742.7 490.3,750.3 491.8,750.3 493.3,745.3 494.7,745.3 496.0,751.6 497.5,751.6 498.9,745.9 499.6,745.9 500.4,756.7 501.2,756.7 502.0,758.7 503.1,758.7 504.2,757.4 504.9,757.4 505.5,749.1 506.8,749.1 508.0,758.8 509.1,758.8 510.3,760.3 511.5,760.3 512.8,758.1 513.9,758.1 515.0,766.1 515.8,766.1 516.7,755.9 517.3,755.9 517.9,764.8 518.6,764.8 519.2,761.4 520.3,761.4 521.4,766.2 522.8,766.2 524.2,759.6 525.5,759.6 526.7,770.7 527.3,770.7 527.9,766.2 529.2,766.2 530.4,762.2 531.6,762.2 532.8,772.5 533.6,772.5 534.5,764.1 535.6,764.1 536.7,776.8 538.0,776.8 539.2,778.7 540.7,778.7 542.1,779.1 543.5,779.1 544.9,773.2 546.2,773.2 547.5,785.9 548.7,785.9 549.9,779.2 551.0,779.2 552.2,785.1 553.6,785.1 555.1,780.4 556.1,780.4 557.0,791.9 558.0,791.9 559.0,783.0 560.3,783.0 561.6,790.8 562.6,790.8 563.6,788.8 564.7,788.8 565.7,796.1 566.6,796.1 567.4,793.9 568.6,793.9 569.8,792.4 571.2,792.4 572.7,800.2 574.1,800.2 575.5,794.9 576.2,794.9 577.0,801.5 578.4,801.5 579.9,805.4 581.0,805.4 582.1,798.1 583.2,798.1 584.2,806.4 585.4,806.4 586.7,807.7 587.4,807.7 588.2,799.1 589.0,799.1 589.8,805.8 590.8,805.8 591.9,800.9 593.3,800.9 594.8,801.1 595.5,801.1 596.1,810.0 597.3,810.0 598.6,801.5 599.9,801.5 601.2,807.1 602.2,807.1 603.2,805.7 604.0,805.7 604.8,805.9 606.0,805.9 607.2,811.7 608.4,811.7 609.5,804.9 610.8,804.9 612.0,809.1 612.7,809.1 613.5,812.7 614.7,812.7 616.0,811.3 616.9,811.3 617.8,818.1 619.0,818.1 620.1,810.5 621.4,810.5 622.7,821.5 624.2,821.5 625.6,813.5 626.6,813.5 627.6,822.5 628.6,822.5 629.5,823.1 630.8,823.1 632.1,826.0 633.3,826.0 634.5,820.1 635.9,820.1 637.2,826.9 638.0,826.9 638.8,818.9 640.3,818.9 641.7,822.0 642.6,822.0 643.5,821.1 644.4,821.1 645.3,825.7 646.4,825.7 647.5,832.1 648.2,832.1 648.8,824.1 650.1,824.1 651.4,831.0 652.7,831.0 654.0,828.8 655.1,828.8 656.2,834.7 657.4,834.7 658.6,836.3 660.1,836.3 661.5,831.4 662.6,831.4 663.7,835.0 664.8,835.0 666.0,831.0 667.1,831.0 668.2,832.5 669.6,832.5 670.9,839.5 672.3,839.5 673.7,831.7 674.8,831.7 675.9,837.8 677.0,837.8 678.0,833.8 679.5,833.8 681.0,839.7 682.3,839.7 683.6,834.9 684.8,834.9 686.0,838.8 687.0,838.8 688.0,834.3 688.8,834.3 689.7,836.2 690.7,836.2 691.7,841.7 692.7,841.7 693.7,840.0 694.9,840.0 696.0,835.1 697.3,835.1 698.6,838.9 699.4,838.9 700.2,835.9 701.2,835.9 702.1,840.3 703.3,840.3" fill="none" stroke="#ff0000" stroke-width="3.6" stroke-linejoin="miter" stroke-linecap="butt"/>
<path d="M601.2,816.5 L601.3,678.4 L604.5,678.4 L604.6,816.5 Z" fill="#ff0000"/>
<line x1="438.9" y1="863.6" x2="671.0" y2="863.6" stroke="#231f20" stroke-width="3.6" stroke-linecap="butt"/>
<text x="561.5" y="905.5" font-size="30.5" text-anchor="middle" font-weight="normal" fill="#000" >pH6.6</text>
<polyline points="656.8,733.5 656.8,781.3 703.6,781.3" fill="none" stroke="#231f20" stroke-width="2.8" stroke-linejoin="miter" stroke-linecap="butt"/>
<text transform="translate(645.2,755.6) rotate(-90)" font-size="32" text-anchor="middle" font-weight="normal" fill="#000">10 mV</text>
<text x="684.3" y="773.0" font-size="32" text-anchor="middle" font-weight="normal" fill="#000" >1 s</text>
<rect x="492.6" y="457.5" width="203" height="202" fill="#fff" stroke="#231f20" stroke-width="3.2"/>
<line x1="492.6" y1="659.7" x2="448.6" y2="702.1" stroke="#231f20" stroke-width="3.2" stroke-linecap="butt"/>
<polyline points="492.8,640.5 500.6,638.2 513.0,633.5 523.9,627.3 534.8,617.2 542.5,607.8 546.4,599.3 548.0,491.2 550.3,585.3 552.2,655.3 554.2,655.3 562.8,628.8 571.3,599.3 573.9,462.4 576.0,597.7 578.0,649.0 584.5,628.8 588.9,597.7 591.1,471.0 592.3,599.3 594.6,638.2 600.1,613.3 604.7,586.8 605.5,497.4 607.8,597.7 609.4,625.7 614.1,607.1 618.7,582.2 621.1,533.2 623.4,585.3 626.5,609.4 632.7,593.1 637.1,563.5 639.7,568.2 643.6,582.2 648.3,579.1 652.9,572.8 656.0,569.7 660.7,571.3 665.4,569.0 670.0,571.3 677.8,565.8 685.6,566.6 691.8,559.6 694.1,562.0" fill="none" stroke="#ff0000" stroke-width="3.6" stroke-linejoin="bevel" stroke-linecap="butt"/>
<text x="4.5" y="1000.0" font-size="46" text-anchor="start" font-weight="bold" fill="#000" >f</text>
<path d="M45.3,1118 L45.3,1127.9 C66,1132 84,1139 91,1148.6 C94,1160 93,1190 88,1214 C82,1250 74,1300 71.9,1334.4 C100,1322 130,1300 154,1285.9 C190,1257 220,1232 236.1,1209.3 C250,1190 262,1170 263.2,1156.1 C264,1150 264.5,1145 264,1141 C263.5,1129 259,1119 250,1113 C235,1103 200,1091 156.9,1080.2 L138.9,1075.7 C135,1092 128,1100 102,1110.8 C80,1117 60,1118 45.3,1118 Z" fill="#6ab130"/>
<path d="M156.9,1080.2 C140,1095 134,1115 136.2,1127 C138,1145 145,1158 160,1163 C180,1169 210,1172 228,1172.9 C245,1173 255,1166 263.2,1156.1 C264,1150 264.5,1145 264,1141 C263.5,1129 259,1119 250,1113 C235,1103 200,1091 156.9,1080.2 Z" fill="#fff"/>
<path d="M156.9,1080.2 C140,1095 134,1115 136.2,1127 C138,1145 145,1158 160,1163 C180,1169 210,1172 228,1172.9 C245,1173 255,1166 263.2,1156.1" fill="none" stroke="#000" stroke-width="1.8"/>
<path d="M154,1285.9 C145,1275 132,1258 128.8,1245.7 C126,1232 135,1210 145.6,1199 C155,1187 172,1179 186.7,1178.9 C205,1179 224,1195 236.1,1209.3 C220,1232 190,1257 154,1285.9 Z" fill="#fff"/>
<path d="M154,1285.9 C145,1275 132,1258 128.8,1245.7 C126,1232 135,1210 145.6,1199 C155,1187 172,1179 186.7,1178.9 C205,1179 224,1195 236.1,1209.3" fill="none" stroke="#000" stroke-width="1.8"/>
<path d="M45.3,1118 C60,1118 80,1117 102,1110.8 C128,1100 135,1092 138.9,1075.7" fill="none" stroke="#000" stroke-width="1.8"/>
<path d="M45.3,1127.9 C66,1132 84,1139 91,1148.6 C94,1160 93,1190 88,1214 C82,1250 74,1300 71.9,1334.4" fill="none" stroke="#000" stroke-width="1.8"/>
<path d="M45.3,1118 L45.3,1069.4 C50,1067 60,1064.5 75,1064.9 C100,1066 120,1071 138.9,1075.7 L156.9,1080.2 C200,1091 235,1103 250,1113 C259,1119 263.5,1129 264,1141 C264.5,1145 264,1150 263.2,1156.1 C262,1170 250,1190 236.1,1209.3 C220,1232 190,1257 154,1285.9 C130,1300 100,1322 71.9,1334.4 L42,1351.2" fill="none" stroke="#000" stroke-width="2.1" stroke-dasharray="8,4.6"/>
<line x1="45.3" y1="1128" x2="45.3" y2="1143" stroke="#000" stroke-width="1.6" stroke-dasharray="7,5"/>
<path d="M44.8,1143 C50,1145 54,1148 56,1150.5 C58.5,1160 59,1170 58.8,1176.7 C58,1190 56,1205 54.1,1214 C51,1240 49,1260 48.5,1270 C49,1300 50,1330 50.4,1344.7 L42,1351.2 Z" fill="#000"/>
<path d="M120.9,1168.4 L268.5,1021.2 L291,1046.9 Z" fill="#4570b7" stroke="#000" stroke-width="1.4" stroke-linejoin="miter"/>
<text x="80.0" y="1097.3" font-size="30.5" text-anchor="middle" font-weight="normal" fill="#231f20" >dp</text>
<text x="216.5" y="1141.4" font-size="30.5" text-anchor="middle" font-weight="normal" fill="#231f20" >pml</text>
<text x="122.8" y="1190.0" font-size="30.5" text-anchor="middle" font-weight="normal" fill="#231f20" >mpd</text>
<text x="73.0" y="1215.0" font-size="30.5" text-anchor="middle" font-weight="normal" fill="#231f20" >pv</text>
<text x="176.0" y="1229.0" font-size="30.5" text-anchor="middle" font-weight="normal" fill="#231f20" >pmm</text>
<text x="27.0" y="1195.3" font-size="30.5" text-anchor="middle" font-weight="normal" fill="#231f20" >III</text>
<text x="169.5" y="1337.2" font-size="32" text-anchor="middle" font-weight="bold" fill="#000" >PVH</text>
<text x="298.0" y="1000.0" font-size="46" text-anchor="start" font-weight="bold" fill="#000" >g</text>
<text x="563.0" y="1002.4" font-size="32" text-anchor="middle" font-weight="normal" fill="#000" >Day</text>
<text x="836.0" y="1002.2" font-size="32" text-anchor="middle" font-weight="normal" fill="#000" >Night</text>
<text x="310.0" y="1123.0" font-size="32" text-anchor="start" font-weight="normal" fill="#000" >WT</text>
<text x="310.5" y="1281.6" font-size="32">ASIC1a<tspan font-size="19" dy="-12">-/-</tspan></text>
<line x1="448.3" y1="1115.3" x2="675.0" y2="1115.3" stroke="#0000ff" stroke-width="3.7" stroke-linecap="butt"/>
<line x1="451.0" y1="1028.0" x2="451.0" y2="1147.8" stroke="#0000ff" stroke-width="4" stroke-linecap="butt"/>
<line x1="469.7" y1="1028.0" x2="469.7" y2="1147.8" stroke="#0000ff" stroke-width="4" stroke-linecap="butt"/>
<line x1="490.0" y1="1028.0" x2="490.0" y2="1147.8" stroke="#0000ff" stroke-width="4" stroke-linecap="butt"/>
<line x1="518.0" y1="1028.0" x2="518.0" y2="1155.8" stroke="#0000ff" stroke-width="4" stroke-linecap="butt"/>
<line x1="540.8" y1="1028.0" x2="540.8" y2="1163.7" stroke="#0000ff" stroke-width="4" stroke-linecap="butt"/>
<line x1="572.8" y1="1028.0" x2="572.8" y2="1147.8" stroke="#0000ff" stroke-width="4" stroke-linecap="butt"/>
<line x1="617.5" y1="1028.0" x2="617.5" y2="1147.8" stroke="#0000ff" stroke-width="4" stroke-linecap="butt"/>
<line x1="641.7" y1="1028.0" x2="641.7" y2="1155.8" stroke="#0000ff" stroke-width="4" stroke-linecap="butt"/>
<line x1="660.0" y1="1028.0" x2="660.0" y2="1155.8" stroke="#0000ff" stroke-width="4" stroke-linecap="butt"/>
<rect x="448.0" y="1107.5" width="12.0" height="7.5" fill="#0000ff"/>
<rect x="462.0" y="1107.5" width="6.0" height="7.5" fill="#0000ff"/>
<rect x="482.0" y="1107.5" width="12.0" height="7.5" fill="#0000ff"/>
<rect x="499.0" y="1107.5" width="4.0" height="7.5" fill="#0000ff"/>
<rect x="523.0" y="1107.5" width="4.0" height="7.5" fill="#0000ff"/>
<rect x="543.0" y="1107.5" width="4.0" height="7.5" fill="#0000ff"/>
<rect x="449.0" y="1115.0" width="7.5" height="8.5" fill="#0000ff"/>
<rect x="462.0" y="1115.0" width="10.5" height="8.5" fill="#0000ff"/>
<rect x="487.0" y="1115.0" width="4.5" height="8.5" fill="#0000ff"/>
<line x1="714.7" y1="1111.7" x2="940.3" y2="1111.7" stroke="#0000ff" stroke-width="3.7" stroke-linecap="butt"/>
<rect x="744.0" y="1106.0" width="10.0" height="6.0" fill="#0000ff"/>
<rect x="763.0" y="1106.0" width="4.0" height="6.0" fill="#0000ff"/>
<rect x="775.0" y="1106.0" width="19.5" height="6.0" fill="#0000ff"/>
<rect x="796.0" y="1106.0" width="10.0" height="6.0" fill="#0000ff"/>
<rect x="807.0" y="1106.0" width="7.0" height="6.0" fill="#0000ff"/>
<rect x="816.0" y="1106.0" width="25.5" height="6.0" fill="#0000ff"/>
<rect x="847.0" y="1106.0" width="7.0" height="6.0" fill="#0000ff"/>
<rect x="861.5" y="1106.0" width="4.5" height="6.0" fill="#0000ff"/>
<rect x="870.5" y="1106.0" width="4.0" height="6.0" fill="#0000ff"/>
<rect x="878.0" y="1106.0" width="4.0" height="6.0" fill="#0000ff"/>
<rect x="748.0" y="1112.0" width="6.0" height="6.5" fill="#0000ff"/>
<rect x="756.0" y="1112.0" width="4.0" height="6.5" fill="#0000ff"/>
<rect x="763.0" y="1112.0" width="4.5" height="6.5" fill="#0000ff"/>
<rect x="775.0" y="1112.0" width="30.0" height="6.5" fill="#0000ff"/>
<rect x="809.0" y="1112.0" width="12.0" height="6.5" fill="#0000ff"/>
<rect x="822.0" y="1112.0" width="16.0" height="6.5" fill="#0000ff"/>
<rect x="846.0" y="1112.0" width="9.0" height="6.5" fill="#0000ff"/>
<rect x="858.0" y="1112.0" width="7.0" height="6.5" fill="#0000ff"/>
<rect x="870.5" y="1112.0" width="4.0" height="6.5" fill="#0000ff"/>
<line x1="725.0" y1="1041.7" x2="725.0" y2="1170.0" stroke="#0000ff" stroke-width="4" stroke-linecap="butt"/>
<line x1="738.7" y1="1041.7" x2="738.7" y2="1170.0" stroke="#0000ff" stroke-width="4" stroke-linecap="butt"/>
<line x1="752.0" y1="1041.7" x2="752.0" y2="1170.0" stroke="#0000ff" stroke-width="4" stroke-linecap="butt"/>
<line x1="764.5" y1="1041.7" x2="764.5" y2="1170.0" stroke="#0000ff" stroke-width="4" stroke-linecap="butt"/>
<line x1="776.7" y1="1041.7" x2="776.7" y2="1170.0" stroke="#0000ff" stroke-width="4" stroke-linecap="butt"/>
<line x1="783.0" y1="1041.7" x2="783.0" y2="1170.0" stroke="#0000ff" stroke-width="4" stroke-linecap="butt"/>
<line x1="790.3" y1="1041.7" x2="790.3" y2="1170.0" stroke="#0000ff" stroke-width="4" stroke-linecap="butt"/>
<line x1="798.3" y1="1040.0" x2="798.3" y2="1170.0" stroke="#0000ff" stroke-width="4" stroke-linecap="butt"/>
<line x1="811.0" y1="1041.7" x2="811.0" y2="1170.0" stroke="#0000ff" stroke-width="4" stroke-linecap="butt"/>
<line x1="826.3" y1="1041.7" x2="826.3" y2="1170.0" stroke="#0000ff" stroke-width="4" stroke-linecap="butt"/>
<line x1="836.3" y1="1041.7" x2="836.3" y2="1170.0" stroke="#0000ff" stroke-width="4" stroke-linecap="butt"/>
<line x1="848.7" y1="1035.0" x2="848.7" y2="1163.3" stroke="#0000ff" stroke-width="4" stroke-linecap="butt"/>
<line x1="863.0" y1="1041.7" x2="863.0" y2="1170.0" stroke="#0000ff" stroke-width="4" stroke-linecap="butt"/>
<line x1="878.3" y1="1035.0" x2="878.3" y2="1170.0" stroke="#0000ff" stroke-width="4" stroke-linecap="butt"/>
<line x1="895.0" y1="1035.0" x2="895.0" y2="1170.0" stroke="#0000ff" stroke-width="4" stroke-linecap="butt"/>
<line x1="913.3" y1="1035.0" x2="913.3" y2="1170.0" stroke="#0000ff" stroke-width="4" stroke-linecap="butt"/>
<line x1="928.0" y1="1035.0" x2="928.0" y2="1170.0" stroke="#0000ff" stroke-width="4" stroke-linecap="butt"/>
<line x1="448.3" y1="1278.7" x2="668.7" y2="1278.7" stroke="#ff0000" stroke-width="3.7" stroke-linecap="butt"/>
<line x1="450.0" y1="1216.7" x2="450.0" y2="1309.7" stroke="#ff0000" stroke-width="4" stroke-linecap="butt"/>
<line x1="473.0" y1="1206.7" x2="473.0" y2="1309.7" stroke="#ff0000" stroke-width="4" stroke-linecap="butt"/>
<line x1="514.5" y1="1206.7" x2="514.5" y2="1309.7" stroke="#ff0000" stroke-width="4" stroke-linecap="butt"/>
<line x1="557.5" y1="1206.7" x2="557.5" y2="1309.7" stroke="#ff0000" stroke-width="4" stroke-linecap="butt"/>
<line x1="580.0" y1="1206.7" x2="580.0" y2="1319.7" stroke="#ff0000" stroke-width="4" stroke-linecap="butt"/>
<line x1="600.3" y1="1206.7" x2="600.3" y2="1309.7" stroke="#ff0000" stroke-width="4" stroke-linecap="butt"/>
<line x1="626.2" y1="1206.7" x2="626.2" y2="1319.7" stroke="#ff0000" stroke-width="4" stroke-linecap="butt"/>
<line x1="649.7" y1="1206.7" x2="649.7" y2="1319.7" stroke="#ff0000" stroke-width="4" stroke-linecap="butt"/>
<rect x="454.7" y="1279.0" width="4.0" height="10.5" fill="#ff0000"/>
<rect x="486.8" y="1279.0" width="4.0" height="10.5" fill="#ff0000"/>
<rect x="494.2" y="1279.0" width="4.0" height="10.5" fill="#ff0000"/>
<rect x="498.0" y="1279.0" width="4.0" height="10.5" fill="#ff0000"/>
<rect x="561.3" y="1279.0" width="4.0" height="10.5" fill="#ff0000"/>
<rect x="591.3" y="1279.0" width="4.0" height="10.5" fill="#ff0000"/>
<rect x="603.8" y="1279.0" width="4.0" height="10.5" fill="#ff0000"/>
<rect x="494.2" y="1268.0" width="4.0" height="12.0" fill="#ff0000"/>
<line x1="714.2" y1="1279.5" x2="747.0" y2="1279.5" stroke="#ff0000" stroke-width="3.7" stroke-linecap="butt"/>
<rect x="730.0" y="1273.0" width="3.5" height="6.0" fill="#ff0000"/>
<rect x="747.0" y="1273.0" width="191.5" height="6.5" fill="#ff0000"/>
<rect x="747.0" y="1279.0" width="48.0" height="7.5" fill="#ff0000"/>
<rect x="797.0" y="1279.0" width="3.0" height="7.5" fill="#ff0000"/>
<rect x="801.0" y="1279.0" width="18.0" height="7.5" fill="#ff0000"/>
<rect x="827.0" y="1279.0" width="4.0" height="7.5" fill="#ff0000"/>
<rect x="833.0" y="1279.0" width="4.0" height="7.5" fill="#ff0000"/>
<rect x="838.0" y="1279.0" width="4.0" height="7.5" fill="#ff0000"/>
<rect x="848.5" y="1279.0" width="17.5" height="7.5" fill="#ff0000"/>
<rect x="867.0" y="1279.0" width="53.0" height="7.5" fill="#ff0000"/>
<rect x="921.0" y="1279.0" width="7.0" height="7.5" fill="#ff0000"/>
<rect x="929.0" y="1279.0" width="11.0" height="7.5" fill="#ff0000"/>
<line x1="738.7" y1="1197.5" x2="738.7" y2="1320.0" stroke="#ff0000" stroke-width="4" stroke-linecap="butt"/>
<line x1="790.0" y1="1183.3" x2="790.0" y2="1320.0" stroke="#ff0000" stroke-width="4" stroke-linecap="butt"/>
<line x1="808.0" y1="1197.5" x2="808.0" y2="1320.0" stroke="#ff0000" stroke-width="4" stroke-linecap="butt"/>
<line x1="814.7" y1="1218.0" x2="814.7" y2="1313.3" stroke="#ff0000" stroke-width="4" stroke-linecap="butt"/>
<line x1="844.2" y1="1197.5" x2="844.2" y2="1320.0" stroke="#ff0000" stroke-width="4" stroke-linecap="butt"/>
<line x1="862.0" y1="1204.0" x2="862.0" y2="1313.3" stroke="#ff0000" stroke-width="4" stroke-linecap="butt"/>
<line x1="898.7" y1="1197.5" x2="898.7" y2="1320.0" stroke="#ff0000" stroke-width="4" stroke-linecap="butt"/>
<line x1="908.7" y1="1210.8" x2="908.7" y2="1313.3" stroke="#ff0000" stroke-width="4" stroke-linecap="butt"/>
<line x1="914.7" y1="1218.0" x2="914.7" y2="1313.3" stroke="#ff0000" stroke-width="4" stroke-linecap="butt"/>
<line x1="924.7" y1="1218.0" x2="924.7" y2="1313.3" stroke="#ff0000" stroke-width="4" stroke-linecap="butt"/>
<polyline points="682.7,1342.4 682.7,1389.8 729.4,1389.8" fill="none" stroke="#231f20" stroke-width="3.2" stroke-linejoin="miter" stroke-linecap="butt"/>
<text transform="translate(671.3,1365.5) rotate(-90)" font-size="31.4" text-anchor="middle" font-weight="normal" fill="#000">1mV</text>
<text x="688.6" y="1383.0" font-size="31" text-anchor="start" font-weight="normal" fill="#000" >0.5s</text>
<text x="946.0" y="999.2" font-size="46" text-anchor="start" font-weight="bold" fill="#000" >h</text>
<line x1="1091.8" y1="1005.2" x2="1091.8" y2="1348.4" stroke="#000" stroke-width="4" stroke-linecap="butt"/>
<line x1="1089.8" y1="1346.4" x2="1320.0" y2="1346.4" stroke="#000" stroke-width="4" stroke-linecap="butt"/>
<line x1="1067.6" y1="1007.6" x2="1091.8" y2="1007.6" stroke="#000" stroke-width="4" stroke-linecap="butt"/>
<text x="1061.5" y="1018.6" font-size="32" text-anchor="end" font-weight="normal" fill="#000" >80</text>
<line x1="1067.6" y1="1092.3" x2="1091.8" y2="1092.3" stroke="#000" stroke-width="4" stroke-linecap="butt"/>
<text x="1061.5" y="1103.3" font-size="32" text-anchor="end" font-weight="normal" fill="#000" >60</text>
<line x1="1067.6" y1="1177.0" x2="1091.8" y2="1177.0" stroke="#000" stroke-width="4" stroke-linecap="butt"/>
<text x="1061.5" y="1188.0" font-size="32" text-anchor="end" font-weight="normal" fill="#000" >40</text>
<line x1="1067.6" y1="1261.7" x2="1091.8" y2="1261.7" stroke="#000" stroke-width="4" stroke-linecap="butt"/>
<text x="1061.5" y="1272.7" font-size="32" text-anchor="end" font-weight="normal" fill="#000" >20</text>
<line x1="1067.6" y1="1346.4" x2="1091.8" y2="1346.4" stroke="#000" stroke-width="4" stroke-linecap="butt"/>
<text x="1061.5" y="1357.4" font-size="32" text-anchor="end" font-weight="normal" fill="#000" >0</text>
<line x1="1143.5" y1="1346.4" x2="1143.5" y2="1370.3" stroke="#000" stroke-width="4" stroke-linecap="butt"/>
<line x1="1263.0" y1="1346.4" x2="1263.0" y2="1370.3" stroke="#000" stroke-width="4" stroke-linecap="butt"/>
<text x="1143.5" y="1404.7" font-size="32" text-anchor="middle" font-weight="normal" fill="#000" >Light</text>
<text x="1263.0" y="1404.7" font-size="32" text-anchor="middle" font-weight="normal" fill="#000" >Dark</text>
<text transform="translate(1009.8,1190.7) rotate(-90)" font-size="31.2" text-anchor="middle" font-weight="normal" fill="#000">Spontaneous firing rates (Hz)</text>
<polyline points="1113.6,1055.9 1113.6,1046.6 1236.0,1046.6 1236.0,1055.9" fill="none" stroke="#000" stroke-width="4" stroke-linejoin="miter" stroke-linecap="butt"/>
<polyline points="1243.5,1088.9 1243.5,1079.6 1289.0,1079.6 1289.0,1088.9" fill="none" stroke="#000" stroke-width="4" stroke-linejoin="miter" stroke-linecap="butt"/>
<text transform="translate(1178.4,1037.6) scale(1,1.085)" x="0" y="0" font-size="32" text-anchor="middle" font-weight="bold" fill="#00a048" stroke="#00a048" stroke-width="0.9">####</text>
<text x="1267.8" y="1083.3" font-size="44.5" letter-spacing="0.5" font-weight="bold" text-anchor="middle" fill="#00a048">***</text>
<circle cx="1353" cy="1029.2" r="5.8" fill="#00ff00" stroke="#0000ff" stroke-width="3.9"/>
<rect x="1347.3" y="1061" width="11.5" height="11.2" rx="1.5" fill="#ffff00" stroke="#ff0000" stroke-width="4"/>
<text x="1374.8" y="1040.8" font-size="32" text-anchor="start" font-weight="normal" fill="#000" >WT</text>
<text x="1374.2" y="1078" font-size="32">ASIC1a<tspan font-size="19" dy="-12">-/-</tspan></text>
<rect x="1229" y="1280.8" width="24" height="65.6" fill="none" stroke="#0000ff" stroke-width="3.7"/>
<line x1="1241.0" y1="1265.7" x2="1241.0" y2="1290.0" stroke="#0000ff" stroke-width="3.7" stroke-linecap="butt"/>
<line x1="1234.1" y1="1265.7" x2="1248.6" y2="1265.7" stroke="#0000ff" stroke-width="3.4" stroke-linecap="butt"/>
<line x1="1234.1" y1="1290.0" x2="1248.6" y2="1290.0" stroke="#0000ff" stroke-width="3.4" stroke-linecap="butt"/>
<rect x="1273.6" y="1317" width="25" height="29.4" fill="none" stroke="#ff0000" stroke-width="4"/>
<line x1="1286.0" y1="1311.0" x2="1286.0" y2="1322.0" stroke="#ff0000" stroke-width="3.7" stroke-linecap="butt"/>
<rect x="1109" y="1333" width="24" height="13.4" fill="none" stroke="#0000ff" stroke-width="3.7"/>
<rect x="1154" y="1335" width="25" height="11.4" fill="none" stroke="#ff0000" stroke-width="4"/>
<circle cx="1112.0" cy="1340.0" r="2.85" fill="#00ff00" stroke="#0000ff" stroke-width="3.7"/>
<circle cx="1126.0" cy="1339.0" r="2.85" fill="#00ff00" stroke="#0000ff" stroke-width="3.7"/>
<circle cx="1131.0" cy="1340.0" r="2.85" fill="#00ff00" stroke="#0000ff" stroke-width="3.7"/>
<circle cx="1116.0" cy="1330.0" r="2.85" fill="#00ff00" stroke="#0000ff" stroke-width="3.7"/>
<circle cx="1126.0" cy="1330.0" r="2.85" fill="#00ff00" stroke="#0000ff" stroke-width="3.7"/>
<circle cx="1121.3" cy="1294.0" r="2.85" fill="#00ff00" stroke="#0000ff" stroke-width="3.7"/>
<circle cx="1121.7" cy="1308.7" r="2.85" fill="#00ff00" stroke="#0000ff" stroke-width="3.7"/>
<circle cx="1119.0" cy="1313.0" r="2.85" fill="#00ff00" stroke="#0000ff" stroke-width="3.7"/>
<circle cx="1121.3" cy="1324.0" r="2.85" fill="#00ff00" stroke="#0000ff" stroke-width="3.7"/>
<circle cx="1121.7" cy="1329.7" r="2.85" fill="#00ff00" stroke="#0000ff" stroke-width="3.7"/>
<circle cx="1111.7" cy="1334.7" r="2.85" fill="#00ff00" stroke="#0000ff" stroke-width="3.7"/>
<circle cx="1120.0" cy="1334.7" r="2.85" fill="#00ff00" stroke="#0000ff" stroke-width="3.7"/>
<circle cx="1130.7" cy="1335.3" r="2.85" fill="#00ff00" stroke="#0000ff" stroke-width="3.7"/>
<circle cx="1133.3" cy="1333.3" r="2.85" fill="#00ff00" stroke="#0000ff" stroke-width="3.7"/>
<circle cx="1111.0" cy="1344.0" r="2.85" fill="#00ff00" stroke="#0000ff" stroke-width="3.7"/>
<circle cx="1116.3" cy="1343.0" r="2.85" fill="#00ff00" stroke="#0000ff" stroke-width="3.7"/>
<circle cx="1121.3" cy="1344.7" r="2.85" fill="#00ff00" stroke="#0000ff" stroke-width="3.7"/>
<circle cx="1126.7" cy="1344.3" r="2.85" fill="#00ff00" stroke="#0000ff" stroke-width="3.7"/>
<circle cx="1132.0" cy="1344.3" r="2.85" fill="#00ff00" stroke="#0000ff" stroke-width="3.7"/>
<circle cx="1108.3" cy="1335.3" r="2.85" fill="#00ff00" stroke="#0000ff" stroke-width="3.7"/>
<rect x="1163.9" y="1307.6" width="6" height="6" rx="1" fill="#ffff00" stroke="#f44242" stroke-width="4"/>
<rect x="1159.0" y="1329.0" width="6" height="6" rx="1" fill="#ffff00" stroke="#f44242" stroke-width="4"/>
<rect x="1152.0" y="1335.0" width="6" height="6" rx="1" fill="#ffff00" stroke="#f44242" stroke-width="4"/>
<rect x="1175.0" y="1334.0" width="6" height="6" rx="1" fill="#ffff00" stroke="#f44242" stroke-width="4"/>
<rect x="1156.8" y="1343.0" width="6" height="6" rx="1" fill="#ffff00" stroke="#f44242" stroke-width="4"/>
<rect x="1173.8" y="1343.0" width="6" height="6" rx="1" fill="#ffff00" stroke="#f44242" stroke-width="4"/>
<rect x="1164.0" y="1342.0" width="6" height="6" rx="1" fill="#ffff00" stroke="#f44242" stroke-width="4"/>
<rect x="1168.0" y="1327.0" width="6" height="6" rx="1" fill="#ffff00" stroke="#f44242" stroke-width="4"/>
<rect x="1163.9" y="1290.7" width="6" height="6" rx="1" fill="#ffff00" stroke="#f44242" stroke-width="4"/>
<rect x="1163.9" y="1307.3" width="6" height="6" rx="1" fill="#ffff00" stroke="#f44242" stroke-width="4"/>
<rect x="1163.9" y="1312.7" width="6" height="6" rx="1" fill="#ffff00" stroke="#f44242" stroke-width="4"/>
<rect x="1164.0" y="1320.0" width="6" height="6" rx="1" fill="#ffff00" stroke="#f44242" stroke-width="4"/>
<rect x="1162.3" y="1330.3" width="6" height="6" rx="1" fill="#ffff00" stroke="#f44242" stroke-width="4"/>
<rect x="1158.7" y="1330.3" width="6" height="6" rx="1" fill="#ffff00" stroke="#f44242" stroke-width="4"/>
<rect x="1174.7" y="1333.7" width="6" height="6" rx="1" fill="#ffff00" stroke="#f44242" stroke-width="4"/>
<rect x="1165.9" y="1336.0" width="6" height="6" rx="1" fill="#ffff00" stroke="#f44242" stroke-width="4"/>
<rect x="1151.5" y="1339.3" width="6" height="6" rx="1" fill="#ffff00" stroke="#f44242" stroke-width="4"/>
<rect x="1157.0" y="1340.7" width="6" height="6" rx="1" fill="#ffff00" stroke="#f44242" stroke-width="4"/>
<rect x="1170.3" y="1338.2" width="6" height="6" rx="1" fill="#ffff00" stroke="#f44242" stroke-width="4"/>
<rect x="1175.7" y="1338.2" width="6" height="6" rx="1" fill="#ffff00" stroke="#f44242" stroke-width="4"/>
<circle cx="1240.5" cy="1120.5" r="2.85" fill="#00ff00" stroke="#0000ff" stroke-width="3.7"/>
<circle cx="1240.5" cy="1134.3" r="2.85" fill="#00ff00" stroke="#0000ff" stroke-width="3.7"/>
<circle cx="1240.5" cy="1160.5" r="2.85" fill="#00ff00" stroke="#0000ff" stroke-width="3.7"/>
<circle cx="1240.5" cy="1175.4" r="2.85" fill="#00ff00" stroke="#0000ff" stroke-width="3.7"/>
<circle cx="1240.5" cy="1189.6" r="2.85" fill="#00ff00" stroke="#0000ff" stroke-width="3.7"/>
<circle cx="1240.5" cy="1201.9" r="2.85" fill="#00ff00" stroke="#0000ff" stroke-width="3.7"/>
<circle cx="1240.5" cy="1243.0" r="2.85" fill="#00ff00" stroke="#0000ff" stroke-width="3.7"/>
<circle cx="1241.2" cy="1274.1" r="2.85" fill="#00ff00" stroke="#0000ff" stroke-width="3.7"/>
<circle cx="1229.3" cy="1290.2" r="2.85" fill="#00ff00" stroke="#0000ff" stroke-width="3.7"/>
<circle cx="1235.0" cy="1295.9" r="2.85" fill="#00ff00" stroke="#0000ff" stroke-width="3.7"/>
<circle cx="1241.2" cy="1299.0" r="2.85" fill="#00ff00" stroke="#0000ff" stroke-width="3.7"/>
<circle cx="1247.0" cy="1296.6" r="2.85" fill="#00ff00" stroke="#0000ff" stroke-width="3.7"/>
<circle cx="1253.1" cy="1299.3" r="2.85" fill="#00ff00" stroke="#0000ff" stroke-width="3.7"/>
<circle cx="1229.3" cy="1299.8" r="2.85" fill="#00ff00" stroke="#0000ff" stroke-width="3.7"/>
<circle cx="1235.0" cy="1302.6" r="2.85" fill="#00ff00" stroke="#0000ff" stroke-width="3.7"/>
<circle cx="1247.0" cy="1303.3" r="2.85" fill="#00ff00" stroke="#0000ff" stroke-width="3.7"/>
<circle cx="1241.2" cy="1313.7" r="2.85" fill="#00ff00" stroke="#0000ff" stroke-width="3.7"/>
<circle cx="1253.1" cy="1314.7" r="2.85" fill="#00ff00" stroke="#0000ff" stroke-width="3.7"/>
<circle cx="1229.3" cy="1319.4" r="2.85" fill="#00ff00" stroke="#0000ff" stroke-width="3.7"/>
<circle cx="1235.0" cy="1317.8" r="2.85" fill="#00ff00" stroke="#0000ff" stroke-width="3.7"/>
<circle cx="1247.0" cy="1317.4" r="2.85" fill="#00ff00" stroke="#0000ff" stroke-width="3.7"/>
<circle cx="1229.3" cy="1326.2" r="2.85" fill="#00ff00" stroke="#0000ff" stroke-width="3.7"/>
<circle cx="1235.0" cy="1325.5" r="2.85" fill="#00ff00" stroke="#0000ff" stroke-width="3.7"/>
<circle cx="1247.0" cy="1325.0" r="2.85" fill="#00ff00" stroke="#0000ff" stroke-width="3.7"/>
<circle cx="1253.1" cy="1325.1" r="2.85" fill="#00ff00" stroke="#0000ff" stroke-width="3.7"/>
<circle cx="1241.2" cy="1330.9" r="2.85" fill="#00ff00" stroke="#0000ff" stroke-width="3.7"/>
<circle cx="1247.0" cy="1337.6" r="2.85" fill="#00ff00" stroke="#0000ff" stroke-width="3.7"/>
<circle cx="1235.0" cy="1340.3" r="2.85" fill="#00ff00" stroke="#0000ff" stroke-width="3.7"/>
<rect x="1281.2" y="1148.5" width="6" height="6" rx="1" fill="#ffff00" stroke="#f44242" stroke-width="4"/>
<rect x="1281.2" y="1172.4" width="6" height="6" rx="1" fill="#ffff00" stroke="#f44242" stroke-width="4"/>
<rect x="1284.2" y="1234.4" width="6" height="6" rx="1" fill="#ffff00" stroke="#f44242" stroke-width="4"/>
<rect x="1289.2" y="1299.8" width="6" height="6" rx="1" fill="#ffff00" stroke="#f44242" stroke-width="4"/>
<rect x="1269.8" y="1325.0" width="6" height="6" rx="1" fill="#ffff00" stroke="#f44242" stroke-width="4"/>
<rect x="1292.3" y="1338.6" width="6" height="6" rx="1" fill="#ffff00" stroke="#f44242" stroke-width="4"/>
<rect x="1283.0" y="1343.0" width="6" height="6" rx="1" fill="#ffff00" stroke="#f44242" stroke-width="4"/>
<rect x="1271.0" y="1343.0" width="6" height="6" rx="1" fill="#ffff00" stroke="#f44242" stroke-width="4"/>
<rect x="1293.0" y="1343.0" width="6" height="6" rx="1" fill="#ffff00" stroke="#f44242" stroke-width="4"/>
<rect x="1280.5" y="1298.3" width="6" height="6" rx="1" fill="#ffff00" stroke="#f44242" stroke-width="4"/>
<rect x="1289.2" y="1298.6" width="6" height="6" rx="1" fill="#ffff00" stroke="#f44242" stroke-width="4"/>
<rect x="1284.5" y="1303.0" width="6" height="6" rx="1" fill="#ffff00" stroke="#f44242" stroke-width="4"/>
<rect x="1284.5" y="1314.1" width="6" height="6" rx="1" fill="#ffff00" stroke="#f44242" stroke-width="4"/>
<rect x="1284.5" y="1321.1" width="6" height="6" rx="1" fill="#ffff00" stroke="#f44242" stroke-width="4"/>
<rect x="1277.8" y="1325.4" width="6" height="6" rx="1" fill="#ffff00" stroke="#f44242" stroke-width="4"/>
<rect x="1295.1" y="1323.5" width="6" height="6" rx="1" fill="#ffff00" stroke="#f44242" stroke-width="4"/>
<rect x="1269.8" y="1324.2" width="6" height="6" rx="1" fill="#ffff00" stroke="#f44242" stroke-width="4"/>
<rect x="1274.5" y="1331.1" width="6" height="6" rx="1" fill="#ffff00" stroke="#f44242" stroke-width="4"/>
<rect x="1281.0" y="1331.1" width="6" height="6" rx="1" fill="#ffff00" stroke="#f44242" stroke-width="4"/>
<rect x="1287.9" y="1333.1" width="6" height="6" rx="1" fill="#ffff00" stroke="#f44242" stroke-width="4"/>
<rect x="1295.1" y="1329.7" width="6" height="6" rx="1" fill="#ffff00" stroke="#f44242" stroke-width="4"/>
<rect x="1270.4" y="1335.2" width="6" height="6" rx="1" fill="#ffff00" stroke="#f44242" stroke-width="4"/>
<rect x="1274.5" y="1340.9" width="6" height="6" rx="1" fill="#ffff00" stroke="#f44242" stroke-width="4"/>
<rect x="1281.0" y="1340.6" width="6" height="6" rx="1" fill="#ffff00" stroke="#f44242" stroke-width="4"/>
<rect x="1287.9" y="1340.9" width="6" height="6" rx="1" fill="#ffff00" stroke="#f44242" stroke-width="4"/>
</svg></body></html>
